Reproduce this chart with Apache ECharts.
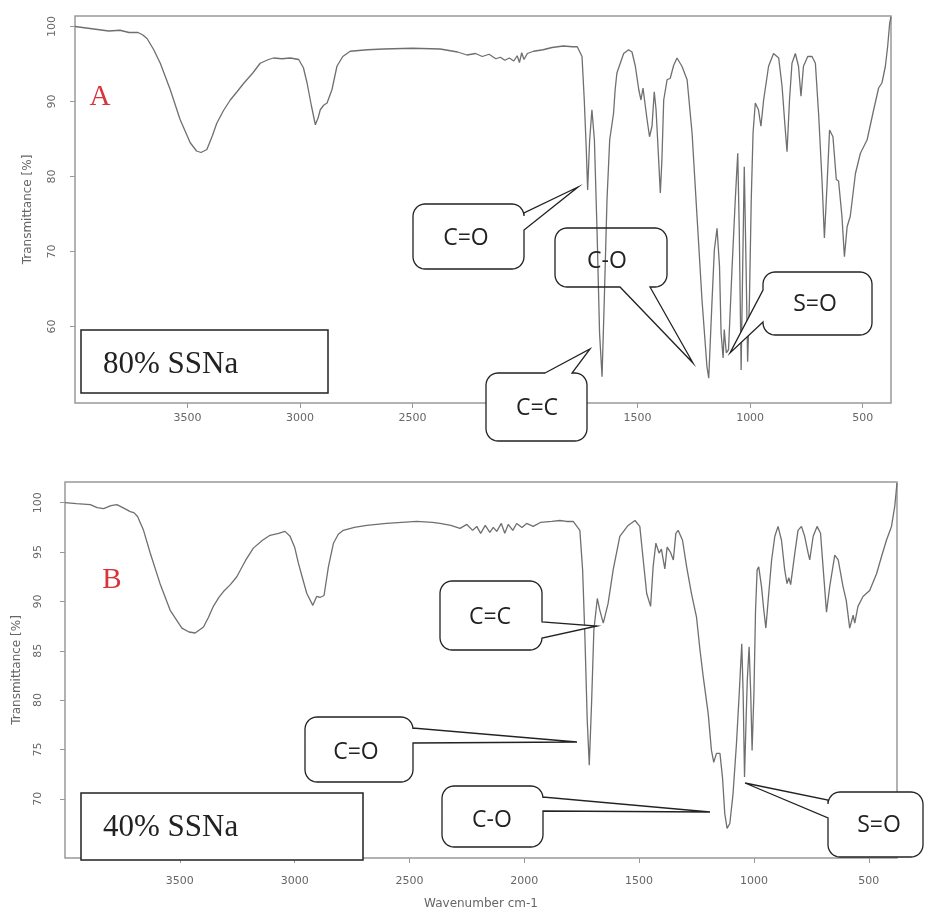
<!DOCTYPE html>
<html>
<head>
<meta charset="utf-8">
<script src="https://cdn.jsdelivr.net/npm/echarts@6/dist/echarts.min.js"></script>
<style>html,body{margin:0;padding:0;background:#fff}#c{width:925px;height:908px}</style>
</head>
<body>
<div id="c"></div>
<script>
// ---- Data ----
const xTicks = [500, 1000, 1500, 2000, 2500, 3000, 3500];
const yTicksA = [60, 70, 80, 90, 100];
const yTicksB = [70, 75, 80, 85, 90, 95, 100];

// Panel A: 80% SSNa
const wnA = [4000,3950,3900,3850,3800,3760,3720,3700,3680,3650,3621,3577,3533,3488,3460,3440,3414,3390,3370,3340,3310,3280,3251,3210,3177,3140,3118,3080,3043,3006,2985,2969,2950,2932,2920,2910,2895,2880,2858,2836,2810,2777,2700,2629,2500,2377,2300,2258,2220,2190,2160,2130,2110,2090,2070,2050,2035,2025,2015,2005,1990,1962,1920,1880,1830,1790,1768,1747,1737,1728,1722,1713,1703,1692,1680,1669,1658,1648,1636,1624,1607,1600,1592,1562,1540,1525,1510,1495,1485,1476,1458,1447,1436,1426,1418,1411,1399,1392,1384,1369,1355,1340,1325,1303,1280,1258,1236,1214,1192,1184,1169,1159,1147,1136,1129,1120,1115,1106,1096,1080,1066,1055,1048,1040,1033,1026,1018,1011,1003,995,987,977,963,952,940,918,896,873,858,845,836,825,814,799,785,774,763,744,725,710,695,680,670,658,647,632,617,607,592,581,569,555,532,510,480,451,429,414,399,389,380,374];
const tA = [100.0,99.8,99.6,99.4,99.5,99.2,99.2,98.9,98.4,96.9,95.1,91.6,87.6,84.5,83.4,83.2,83.6,85.4,87.1,88.8,90.2,91.3,92.4,93.8,95.1,95.6,95.8,95.7,95.8,95.6,94.5,92.5,89.5,86.9,87.8,88.9,89.5,89.8,91.6,94.7,96.0,96.7,96.9,97.0,97.1,97.0,96.6,96.2,96.4,96.0,96.3,95.7,95.9,95.5,95.8,95.4,96.1,95.2,96.5,95.6,96.4,96.7,96.9,97.2,97.4,97.3,97.3,96.0,90.2,83.6,78.2,84.9,88.9,84.9,72.5,59.1,53.3,63.6,76.9,84.9,88.4,91.5,93.8,96.4,96.9,96.6,94.7,91.6,90.2,91.8,87.6,85.3,86.7,91.3,88.9,84.9,77.8,82.2,90.2,92.9,93.1,94.8,95.8,94.7,92.9,85.8,74.7,63.6,54.7,53.1,63.6,70.2,73.1,68.0,59.1,55.8,59.6,56.5,56.9,68.0,76.9,83.1,72.4,54.2,68.0,81.3,68.0,55.3,63.6,76.9,85.8,89.8,88.9,86.7,90.2,94.7,96.4,95.8,92.0,86.7,83.3,90.2,95.1,96.4,94.7,90.7,94.7,96.0,96.0,95.1,88.0,79.1,71.8,79.0,86.2,85.3,79.6,79.4,74.7,69.3,73.3,74.7,80.4,83.1,84.9,88.9,91.8,92.5,94.7,97.3,100.4,101.3];

// Panel B: 40% SSNa
const wnB = [4000,3950,3890,3860,3832,3800,3774,3740,3716,3700,3684,3658,3629,3586,3542,3491,3460,3433,3397,3375,3354,3330,3310,3280,3252,3215,3180,3140,3107,3070,3042,3020,3000,2984,2965,2947,2921,2904,2890,2872,2853,2831,2810,2788,2740,2686,2600,2468,2400,2367,2320,2280,2250,2225,2207,2190,2170,2150,2135,2120,2100,2085,2070,2050,2033,2010,1990,1961,1930,1880,1845,1816,1787,1758,1746,1736,1726,1717,1707,1697,1682,1671,1656,1635,1613,1584,1548,1518,1497,1482,1467,1450,1439,1427,1413,1403,1388,1378,1364,1351,1340,1330,1311,1293,1272,1250,1235,1221,1199,1185,1175,1163,1148,1137,1127,1117,1105,1091,1076,1064,1053,1047,1041,1035,1029,1021,1014,1008,1000,993,986,979,967,957,948,938,923,909,895,880,866,856,848,840,822,808,793,779,764,757,742,725,710,699,684,670,648,633,612,598,583,568,561,547,525,496,466,445,423,401,387,377];
const tB = [100.0,99.9,99.8,99.5,99.4,99.7,99.8,99.4,99.1,99.0,98.6,97.2,94.9,91.8,89.1,87.3,86.9,86.8,87.4,88.4,89.5,90.4,91.0,91.7,92.5,94.1,95.4,96.2,96.7,96.9,97.1,96.6,95.5,93.9,92.3,90.8,89.6,90.5,90.4,90.6,93.5,95.9,96.8,97.2,97.5,97.7,97.9,98.1,98.0,97.9,97.7,97.4,97.8,97.2,97.6,96.9,97.7,97.0,97.5,97.1,97.9,96.9,97.8,97.2,97.9,97.5,97.9,97.6,98.0,98.1,98.2,98.1,98.1,97.2,93.2,86.4,78.0,73.4,79.7,87.1,90.3,89.1,87.8,89.8,93.2,96.6,97.7,98.2,97.6,94.2,90.8,89.5,93.5,95.9,94.9,95.3,93.3,95.5,95.0,94.2,96.9,97.2,96.2,93.5,90.8,88.4,85.1,82.4,78.6,74.9,73.7,74.6,74.6,72.2,68.5,67.0,67.5,70.5,75.6,80.7,85.7,80.7,72.2,77.3,82.0,85.4,80.7,74.9,80.7,89.1,93.2,93.5,91.5,89.1,87.3,90.1,94.2,96.6,97.6,96.2,93.2,91.8,92.4,91.7,94.9,97.2,97.6,96.6,94.9,94.2,96.6,97.6,96.9,93.5,88.9,91.5,94.7,94.2,91.5,90.1,87.3,88.6,87.8,89.5,90.5,91.1,92.8,94.5,96.2,97.6,99.6,102.0];

const panelLabels = ['A', 'B'];
const sampleLabels = ['80% SSNa', '40% SSNa'];

// ---- Helpers ----
function zip(xs, ys) { return xs.map((x, i) => [x, ys[i]]); }

function calloutPoints(x, y, w, h, r, side, a, b, tx, ty) {
  const R = x + w, B = y + h, pts = [];
  function arc(cx, cy, a0, a1) {
    const n = 6;
    for (let i = 0; i <= n; i++) {
      const t = (a0 + (a1 - a0) * i / n) * Math.PI / 180;
      pts.push([cx + r * Math.cos(t), cy + r * Math.sin(t)]);
    }
  }
  if (side === 'top') pts.push([a, y], [tx, ty], [b, y]);
  arc(R - r, y + r, -90, 0);
  if (side === 'right') pts.push([R, a], [tx, ty], [R, b]);
  arc(R - r, B - r, 0, 90);
  if (side === 'bottom') pts.push([b, B], [tx, ty], [a, B]);
  arc(x + r, B - r, 90, 180);
  if (side === 'left') pts.push([x, b], [tx, ty], [x, a]);
  arc(x + r, y + r, 180, 270);
  return pts;
}

const callouts = [
  // [label, x, y, w, h, side, a, b, tipX, tipY, textX, textY, filled]
  ['C=O', 413, 204, 111, 65, 'right', 213, 230, 578, 187, 466, 238, true],
  ['C-O', 555, 228, 112, 59, 'bottom', 620, 650, 693, 363, 607, 261, false],
  ['S=O', 763, 272, 109, 63, 'left', 290, 322, 730, 353, 815, 304, true],
  ['C=C', 486, 373, 101, 68, 'top', 545, 572, 590, 349, 537, 408, true],
  ['C=C', 440, 581, 102, 69, 'right', 622, 638, 597, 626, 490, 617, true],
  ['C=O', 305, 717, 108, 65, 'right', 728, 743, 577, 742, 356, 752, true],
  ['C-O', 442, 786, 101, 61, 'right', 797, 811, 710, 812, 492, 820, true],
  ['S=O', 828, 792, 95, 65, 'left', 800, 818, 745, 783, 879, 825, true]
];

const graphics = [];
callouts.forEach(c => {
  graphics.push({
    type: 'polygon', z: 100,
    shape: { points: calloutPoints(c[1], c[2], c[3], c[4], 12, c[5], c[6], c[7], c[8], c[9]) },
    style: { fill: c[12] ? '#fff' : 'rgba(0,0,0,0)', stroke: '#222', lineWidth: 1.3 }
  });
  graphics.push({
    type: 'text', z: 101, x: c[10], y: c[11],
    style: { text: c[0], font: '23px "Open Sans", sans-serif', fill: '#222', align: 'center', verticalAlign: 'middle' }
  });
});
// sample boxes
[[81, 330, 247, 63, 103, 365], [81, 793, 282, 67, 103, 828]].forEach((b, i) => {
  graphics.push({ type: 'rect', z: 100, shape: { x: b[0], y: b[1], width: b[2], height: b[3] },
    style: { fill: '#fff', stroke: '#222', lineWidth: 1.5 } });
  graphics.push({ type: 'text', z: 101, x: b[4], y: b[5],
    style: { text: sampleLabels[i], font: '31px "Liberation Serif", serif', fill: '#222', align: 'left', verticalAlign: 'middle' } });
});
// panel letters
[[100, 97], [112, 580]].forEach((p, i) => {
  graphics.push({ type: 'text', z: 101, x: p[0], y: p[1],
    style: { text: panelLabels[i], font: '29px "Liberation Serif", serif', fill: '#d8343a', align: 'center', verticalAlign: 'middle' } });
});

const labelFont = { fontFamily: 'DejaVu Sans', fontSize: 11, color: '#666' };
const plain = v => String(v);

function xAxis(gi, min, max, margin, name) {
  return {
    type: 'value', gridIndex: gi, inverse: true, min: min, max: max,
    axisLine: { show: false }, splitLine: { show: false },
    axisTick: { show: true, inside: false, length: 5, customValues: xTicks, lineStyle: { color: '#999' } },
    axisLabel: Object.assign({ customValues: xTicks, margin: margin, formatter: plain }, labelFont),
    name: name, nameLocation: 'middle', nameGap: 40,
    nameTextStyle: { fontFamily: 'DejaVu Sans', fontSize: 12, color: '#666' }
  };
}
function yAxis(gi, min, max, ticks, margin, gap) {
  return {
    type: 'value', gridIndex: gi, min: min, max: max,
    axisLine: { show: false }, splitLine: { show: false },
    axisTick: { show: true, inside: false, length: 5, customValues: ticks, lineStyle: { color: '#999' } },
    axisLabel: Object.assign({ customValues: ticks, rotate: 90, margin: margin, formatter: plain }, labelFont),
    name: 'Transmittance [%]', nameLocation: 'middle', nameRotate: 90, nameGap: gap,
    nameTextStyle: { fontFamily: 'DejaVu Sans', fontSize: 12, color: '#666' }
  };
}

const chart = echarts.init(document.getElementById('c'), null, { renderer: 'canvas' });
chart.setOption({
  animation: false,
  backgroundColor: '#fff',
  grid: [
    { left: 75, top: 16, width: 816, height: 387, show: true, borderColor: '#999', borderWidth: 1.5, containLabel: false, outerBoundsMode: 'none' },
    { left: 65, top: 482, width: 832, height: 376, show: true, borderColor: '#999', borderWidth: 1.5, containLabel: false, outerBoundsMode: 'none' }
  ],
  xAxis: [xAxis(0, 374, 4000, 10, ''), xAxis(1, 377, 4000, 18, 'Wavenumber cm-1')],
  yAxis: [yAxis(0, 49.8, 101.4, yTicksA, 17, 41), yAxis(1, 64, 102.1, yTicksB, 21, 42)],
  series: [
    { type: 'line', xAxisIndex: 0, yAxisIndex: 0, data: zip(wnA, tA), showSymbol: false,
      lineStyle: { color: '#6f6f6f', width: 1.3 }, z: 2 },
    { type: 'line', xAxisIndex: 1, yAxisIndex: 1, data: zip(wnB, tB), showSymbol: false,
      lineStyle: { color: '#6f6f6f', width: 1.3 }, z: 2 }
  ],
  graphic: { elements: graphics }
});
</script>
</body>
</html>
